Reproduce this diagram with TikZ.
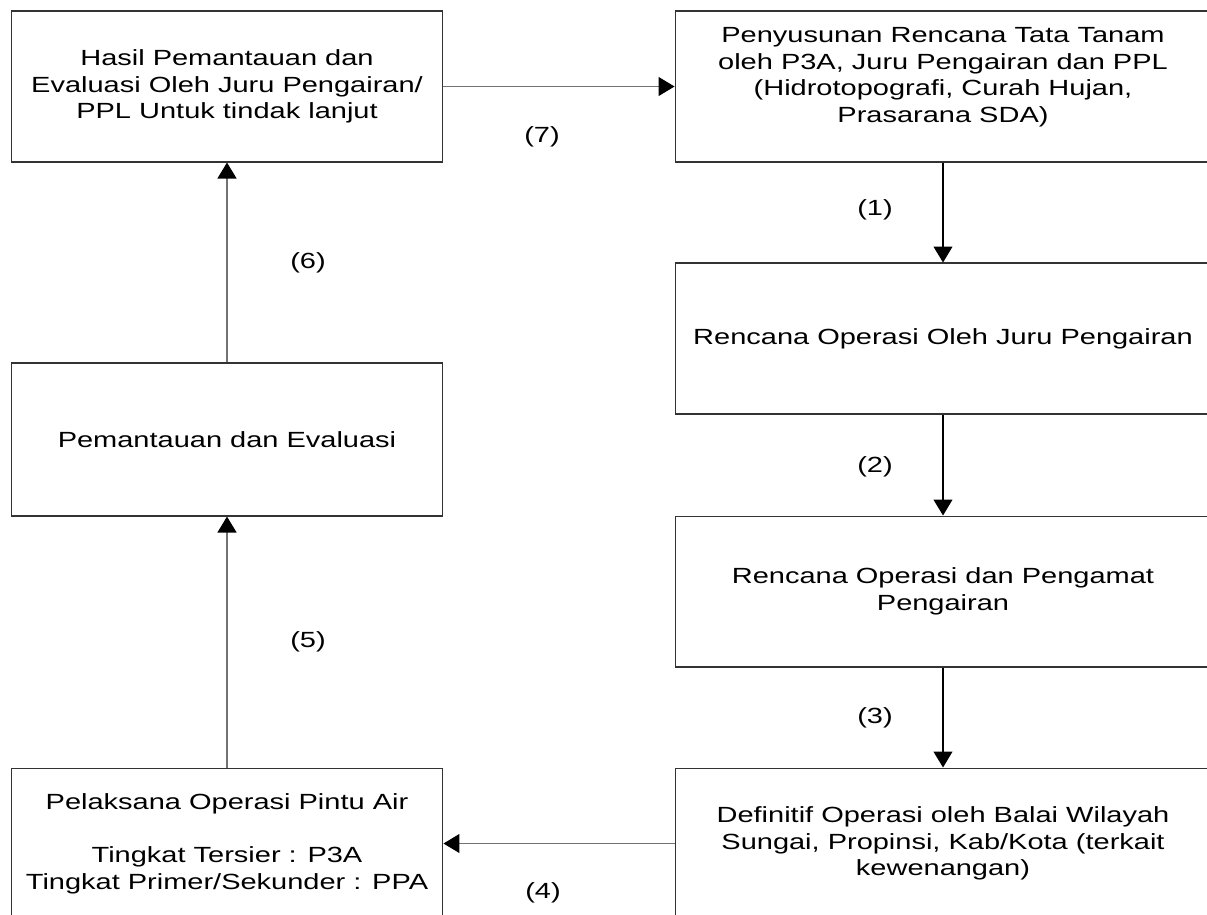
\documentclass[tikz,border=0pt]{standalone}
\usepackage{fontspec}
\setmainfont{Liberation Sans}[FakeStretch=1.32]
\usetikzlibrary{arrows.meta}
\tikzset{
  stepbox/.style={draw=black!80, line width=0.6pt, inner sep=0pt, align=center,
    font=\fontsize{12.5}{15.2}\selectfont},
  leftbox/.style={stepbox, minimum width=8.64cm, minimum height=3.02cm},
  rightbox/.style={stepbox, minimum width=10.72cm, minimum height=3.02cm},
  flow/.style={line width=0.6pt, draw=black!55, -{Triangle[width=0.38cm, length=0.32cm, color=black]}},
  flowdark/.style={flow, draw=black},
  steplabel/.style={font=\fontsize{12.5}{15.2}\selectfont},
}

\begin{document}
\begin{tikzpicture}[x=0.02cm, y=-0.02cm]
\useasboundingbox (0,0) rectangle (1207,914);
% left column
\node[leftbox] (hasil) at (227,86.5) {Hasil Pemantauan dan\\Evaluasi Oleh Juru Pengairan/\\PPL Untuk tindak lanjut};
\node[leftbox, minimum height=3.06cm] (pantau) at (227,439.5) {Pemantauan dan Evaluasi};
\node[leftbox] (pelaksana) at (227,843.5) {Pelaksana Operasi Pintu Air\\[15.2pt]Tingkat Tersier : P3A\\Tingkat Primer/Sekunder : PPA};
% right column
\node[rightbox, text depth=13pt] (susun) at (943,86.5) {Penyusunan Rencana Tata Tanam\\oleh P3A, Juru Pengairan dan PPL\\(Hidrotopografi, Curah Hujan,\\Prasarana SDA)};
\node[rightbox] (rencana) at (943,338.5) {Rencana Operasi Oleh Juru Pengairan};
\node[rightbox] (pengamat) at (943,591.5) {Rencana Operasi dan Pengamat\\Pengairan};
\node[rightbox] (definitif) at (943,843.5) {Definitif Operasi oleh Balai Wilayah\\Sungai, Propinsi, Kab/Kota (terkait\\kewenangan)};
% connectors
\draw[flow] (hasil.east) -- (susun.west |- hasil.east);
\draw[flowdark] (susun) -- (rencana);
\draw[flowdark] (rencana) -- (pengamat);
\draw[flowdark] (pengamat) -- (definitif);
\draw[flow] (definitif.west |- pelaksana.east) -- (pelaksana.east);
\draw[flow] (pelaksana) -- (pantau);
\draw[flow] (pantau) -- (hasil);
% step numbers
\node[steplabel] (lbl1) at (875,210) {(1)};
\node[steplabel] (lbl2) at (875,467) {(2)};
\node[steplabel] (lbl3) at (875,718) {(3)};
\node[steplabel] (lbl4) at (543,893) {(4)};
\node[steplabel] (lbl5) at (308,642) {(5)};
\node[steplabel] (lbl6) at (308,263) {(6)};
\node[steplabel] (lbl7) at (542,137) {(7)};
\end{tikzpicture}
\end{document}
